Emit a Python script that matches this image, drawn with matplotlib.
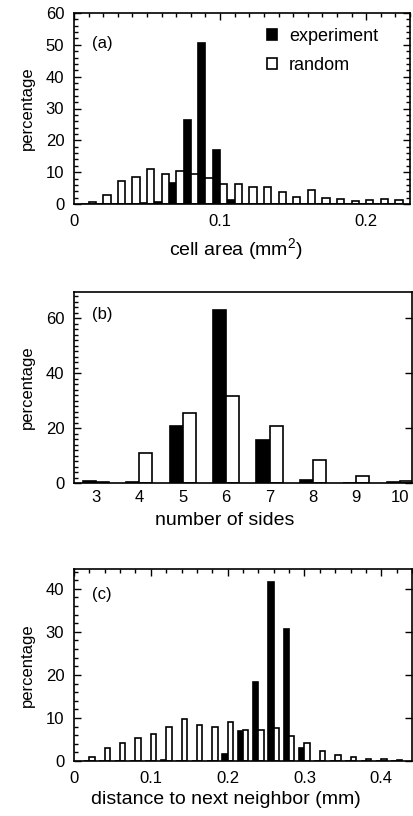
import matplotlib
matplotlib.use('Agg')
import matplotlib.pyplot as plt
from matplotlib.ticker import MultipleLocator, NullLocator

plt.rcParams['font.family'] = ['Liberation Sans', 'DejaVu Sans']
plt.rcParams['font.size'] = 12
plt.rcParams['mathtext.default'] = 'regular'
plt.rcParams['axes.linewidth'] = 1.2

# (a) cell area histogram, bins of 0.01 mm^2
area_bins = [0.01, 0.02, 0.03, 0.04, 0.05, 0.06, 0.07, 0.08, 0.09, 0.10, 0.11,
             0.12, 0.13, 0.14, 0.15, 0.16, 0.17, 0.18, 0.19, 0.20, 0.21, 0.22]
area_exp = [0, 0, 0, 0, 0.3, 0.5, 6.6, 26.5, 50.5, 16.9, 1.4,
            0, 0, 0, 0, 0, 0, 0, 0, 0, 0, 0]
area_rand = [0.5, 2.8, 7.2, 8.5, 11, 9.3, 10.3, 9.5, 8.2, 6.4, 6.4,
             5.4, 5.4, 3.8, 2.3, 4.5, 2.0, 1.5, 0.9, 1.2, 1.5, 1.4]

# (b) number of sides
sides = [3, 4, 5, 6, 7, 8, 9, 10]
sides_exp = [0.6, 0.5, 20.9, 63.0, 15.7, 1.0, 0, 0.3]
sides_rand = [0.3, 11.0, 25.5, 31.7, 20.9, 8.3, 2.7, 0.7]

# (c) distance to next neighbor, bins of 0.02 mm
dist_bins = [0.02, 0.04, 0.06, 0.08, 0.10, 0.12, 0.14, 0.16, 0.18, 0.20, 0.22,
             0.24, 0.26, 0.28, 0.30, 0.32, 0.34, 0.36, 0.38, 0.40, 0.42]
dist_exp = [0, 0, 0, 0, 0, 0.2, 0, 0, 0, 1.7, 6.9,
            18.3, 41.5, 30.6, 3.1, 0, 0, 0, 0, 0, 0]
dist_rand = [0.95, 3.1, 4.1, 5.3, 6.2, 8.0, 9.8, 8.4, 7.9, 9.0, 7.3,
             7.3, 7.6, 5.7, 4.1, 2.3, 1.4, 0.9, 0.5, 0.4, 0.3]

fig = plt.figure(figsize=(4.13, 8.16), dpi=100)
W, H = 413, 816


def place(left, top, right, bottom):
    return fig.add_axes([left / W, 1 - bottom / H, (right - left) / W, (bottom - top) / H])


def style(ax):
    ax.tick_params(which='both', direction='in', labelsize=12, width=1.0)
    ax.tick_params(which='major', length=5)
    ax.tick_params(which='minor', length=3)
    ax.tick_params(axis='x', which='both', bottom=False, pad=7)
    ax.tick_params(axis='y', which='both', pad=7)


# panel a
ax = place(74, 13, 410, 204)
xl = [a - 0.005 for a in area_bins]
ax.bar(xl, area_exp, width=0.005, align='edge', color='black', edgecolor='black', lw=1.2,
       label='experiment')
ax.bar(area_bins, area_rand, width=0.005, align='edge', color='white', edgecolor='black',
       lw=1.2, label='random')
ax.set_xlim(0, 0.23)
ax.set_ylim(0, 60)
ax.set_xticks([0, 0.1, 0.2])
ax.set_xticklabels(['0', '0.1', '0.2'])
ax.xaxis.set_minor_locator(MultipleLocator(0.01))
ax.yaxis.set_major_locator(MultipleLocator(10))
ax.yaxis.set_minor_locator(MultipleLocator(2))
style(ax)
ax.tick_params(which='both', top=True, right=True)
ax.set_xlabel('cell area (mm$^{2}$)', fontsize=14)
ax.xaxis.set_label_coords(0.482, -0.17)
ax.set_ylabel('percentage', fontsize=12, labelpad=8)
ax.text(0.054, 0.84, '(a)', transform=ax.transAxes, fontsize=12, va='center')
ax.legend(loc='upper left', bbox_to_anchor=(0.575, 0.92), frameon=False, fontsize=13,
          handlelength=0.55, handleheight=0.55, handletextpad=0.65, labelspacing=0.65,
          borderpad=0, borderaxespad=0)

# panel b
ax = place(74, 292, 412, 483)
xl = [s - 0.3 for s in sides]
ax.bar(xl, sides_exp, width=0.3, align='edge', color='black', edgecolor='black', lw=1.2)
ax.bar(sides, sides_rand, width=0.3, align='edge', color='white', edgecolor='black', lw=1.2)
ax.set_xlim(2.5, 10.28)
ax.set_ylim(0, 69.5)
ax.set_xticks(sides)
ax.xaxis.set_minor_locator(NullLocator())
ax.yaxis.set_major_locator(MultipleLocator(20))
ax.yaxis.set_minor_locator(MultipleLocator(2))
style(ax)
ax.tick_params(axis='y', which='major', right=True)
ax.tick_params(axis='x', top=False, pad=5)
ax.set_xlabel('number of sides', fontsize=14)
ax.xaxis.set_label_coords(0.447, -0.15)
ax.set_ylabel('percentage', fontsize=12, labelpad=8)
ax.text(0.053, 0.88, '(b)', transform=ax.transAxes, fontsize=12, va='center')

# panel c
ax = place(74, 569, 412, 761)
xl = [d - 0.007 for d in dist_bins]
ax.bar(xl, dist_exp, width=0.007, align='edge', color='black', edgecolor='black', lw=1.2)
ax.bar(dist_bins, dist_rand, width=0.007, align='edge', color='white', edgecolor='black',
       lw=1.2)
ax.set_xlim(0, 0.44)
ax.set_ylim(0, 44.6)
ax.set_xticks([0, 0.1, 0.2, 0.3, 0.4])
ax.set_xticklabels(['0', '0.1', '0.2', '0.3', '0.4'])
ax.xaxis.set_minor_locator(MultipleLocator(0.02))
ax.yaxis.set_major_locator(MultipleLocator(10))
ax.yaxis.set_minor_locator(MultipleLocator(2))
style(ax)
ax.tick_params(axis='x', which='both', top=True)
ax.tick_params(axis='y', which='major', right=True)
ax.set_xlabel('distance to next neighbor (mm)', fontsize=14)
ax.xaxis.set_label_coords(0.45, -0.155)
ax.set_ylabel('percentage', fontsize=12, labelpad=8)
ax.text(0.053, 0.865, '(c)', transform=ax.transAxes, fontsize=12, va='center')

fig.savefig('out.png', dpi=100)
